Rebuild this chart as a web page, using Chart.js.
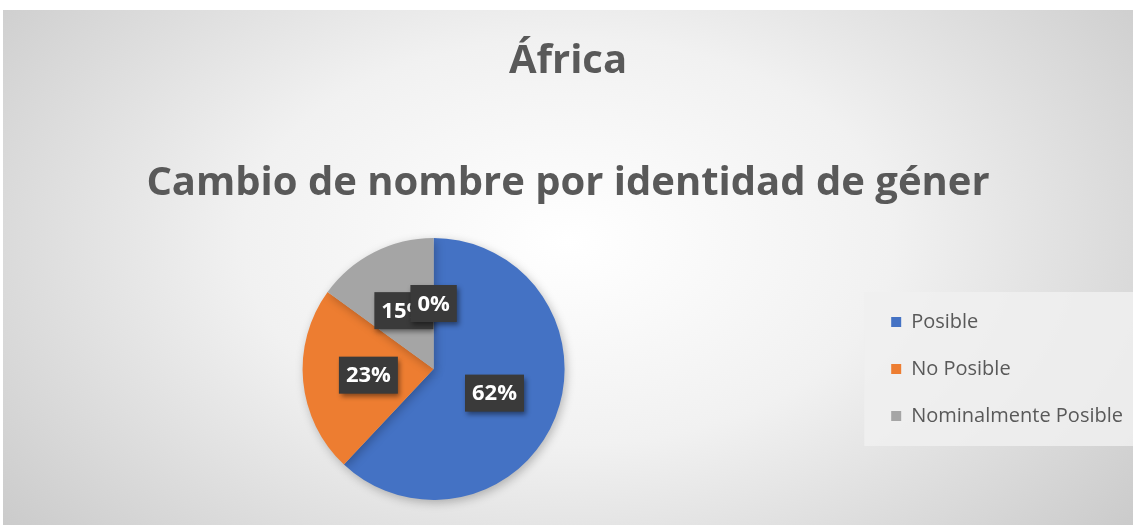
<!DOCTYPE html>
<html>
<head>
<meta charset="utf-8">
<script src="https://cdn.jsdelivr.net/npm/chart.js@4/dist/chart.umd.min.js"></script>
<style>
  html, body { margin: 0; padding: 0; background: #fff; }
  #wrap { position: absolute; left: 3px; top: 10px; width: 1130px; height: 515px; }
</style>
</head>
<body>
<div id="wrap"><canvas id="pie-chart"></canvas></div>
<script>
const chartTitle = 'África';
const chartSubtitle = 'Cambio de nombre por identidad de géner';
const categories = ['Posible', 'No Posible', 'Nominalmente Posible', ''];
const values = [62, 23, 15, 0];
const sliceColors = ['#4472C4', '#ED7D31', '#A5A5A5', '#FFC000'];

// gray radial background like the office chart area
const backgroundPlugin = {
  id: 'bg',
  beforeDraw(chart) {
    const ctx = chart.ctx;
    const w = chart.width, h = chart.height;
    ctx.save();
    ctx.translate(w * 0.5, h * 0.45);
    ctx.scale(1.6, 1);
    const g = ctx.createRadialGradient(0, 0, 0, 0, 0, w * 0.4);
    g.addColorStop(0, '#ffffff');
    g.addColorStop(0.45, '#f1f1f1');
    g.addColorStop(1, '#cbcbcb');
    ctx.fillStyle = g;
    ctx.fillRect(-w, -h, w * 2, h * 2);
    ctx.restore();

    // lighter box behind legend
    const lg = chart.legend;
    if (lg && lg.legendHitBoxes && lg.legendHitBoxes.length) {
      const boxes = lg.legendHitBoxes;
      const top = boxes[0].top - 20;
      const bottom = boxes[boxes.length - 1].top + boxes[boxes.length - 1].height + 20;
      ctx.save();
      ctx.fillStyle = 'rgba(240,240,240,0.85)';
      ctx.fillRect(lg.left, top, w - lg.left, bottom - top);
      ctx.restore();
    }
  }
};

const shadowPlugin = {
  id: 'pieShadow',
  beforeDatasetsDraw(chart) {
    const ctx = chart.ctx;
    ctx.save();
    ctx.shadowColor = 'rgba(0,0,0,0.25)';
    ctx.shadowBlur = 10;
    ctx.shadowOffsetX = 2;
    ctx.shadowOffsetY = 3;
  },
  afterDatasetsDraw(chart) {
    chart.ctx.restore();
  }
};

// dark data label boxes
const labelPlugin = {
  id: 'darkLabels',
  afterDatasetsDraw(chart) {
    const ctx = chart.ctx;
    const meta = chart.getDatasetMeta(0);
    ctx.save();
    ctx.font = 'bold 22px "Open Sans", Lato, sans-serif';
    ctx.textAlign = 'center';
    ctx.textBaseline = 'middle';
    meta.data.forEach((arc, i) => {
      const p = arc.getProps(['startAngle', 'endAngle', 'outerRadius', 'x', 'y'], true);
      const mid = (p.startAngle + p.endAngle) / 2;
      const r = p.outerRadius * 0.5;
      const x = p.x + Math.cos(mid) * r;
      const y = p.y + Math.sin(mid) * r;
      const text = values[i] + '%';
      const tw = ctx.measureText(text).width;
      const bw = tw + 14, bh = 37;
      ctx.save();
      ctx.shadowColor = 'rgba(0,0,0,0.45)';
      ctx.shadowBlur = 5;
      ctx.shadowOffsetX = 2;
      ctx.shadowOffsetY = 3;
      ctx.fillStyle = '#3a3a3a';
      ctx.fillRect(x - bw / 2, y - bh / 2, bw, bh);
      ctx.restore();
      ctx.fillStyle = '#ffffff';
      ctx.fillText(text, x, y + 1);
    });
    ctx.restore();
  }
};

function loadChart() {
  const ctx = document.getElementById('pie-chart').getContext('2d');
  new Chart(ctx, {
    type: 'pie',
    data: {
      labels: categories,
      datasets: [{
        data: values,
        backgroundColor: sliceColors,
        borderWidth: 0
      }]
    },
    options: {
      responsive: true,
      maintainAspectRatio: false,
      animation: false,
      layout: { padding: { bottom: 25 } },
      plugins: {
        title: {
          display: true,
          text: chartTitle,
          color: '#595959',
          font: { family: '"Open Sans", Lato, sans-serif', size: 40, weight: 'bold' },
          padding: { top: 28, bottom: 38 }
        },
        subtitle: {
          display: true,
          text: chartSubtitle,
          color: '#595959',
          font: { family: '"Open Sans", Lato, sans-serif', size: 40, weight: 'bold' },
          padding: { top: 36, bottom: 30 }
        },
        legend: {
          position: 'right',
          fullSize: false,
          labels: {
            boxWidth: 10,
            boxHeight: 10,
            padding: 27,
            color: '#595959',
            font: { family: '"Open Sans", Lato, sans-serif', size: 20 },
            filter: item => item.text !== ''
          }
        },
        tooltip: { enabled: false }
      }
    },
    plugins: [backgroundPlugin, shadowPlugin, labelPlugin]
  });
}

document.addEventListener('DOMContentLoaded', () => {
  loadChart();
});
</script>
</body>
</html>
